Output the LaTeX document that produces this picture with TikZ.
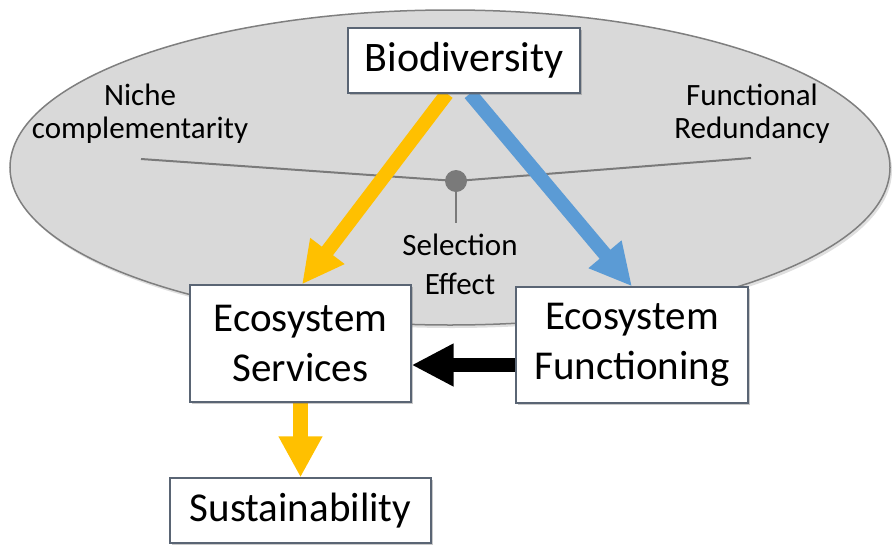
\documentclass[tikz,border=0pt]{standalone}
\usepackage{fontspec}
\setmainfont{Carlito}
\usetikzlibrary{arrows.meta,shadows}
\definecolor{ellfill}{HTML}{D9D9D9}
\definecolor{elldraw}{HTML}{7F7F7F}
\definecolor{boxdraw}{HTML}{5A6574}
\definecolor{gold}{HTML}{FFC000}
\definecolor{sky}{HTML}{5B9BD5}
\definecolor{pinline}{HTML}{7A7A7A}
\pgfdeclarelayer{back}
\pgfdeclarelayer{mid}
\pgfsetlayers{back,mid,main}
\begin{document}
\begin{tikzpicture}[x=1pt,y=-1pt,
  bigbox/.style={draw=boxdraw, line width=1.2pt, fill=white, inner sep=0pt, align=center,
    font=\fontsize{41}{50}\selectfont,
    drop shadow={shadow xshift=2pt, shadow yshift=-2pt, opacity=0.35, fill=black!60}},
  lbl/.style={align=center, inner sep=0pt},
  fat/.style={line width=14pt, -{Triangle[length=42pt,width=40pt]}},
]
\useasboundingbox (0,0) rectangle (894,544);

% boxes
\node[bigbox, minimum width=232pt, minimum height=65pt, font=\fontsize{42}{50}\selectfont] (bio) at (464,60.5) {Biodiversity};
\node[bigbox, minimum width=221pt, minimum height=117pt] (es) at (300.5,343.5) {Ecosystem\\Services};
\node[bigbox, minimum width=232pt, minimum height=116pt] (ef) at (632,345) {Ecosystem\\Functioning};
\node[bigbox, minimum width=261pt, minimum height=65pt] (sus) at (300.5,510.5) {Sustainability};

\begin{pgfonlayer}{back}
  \path[fill=ellfill, draw=elldraw, line width=1.5pt,
    drop shadow={shadow xshift=2pt, shadow yshift=-3pt, opacity=0.25, fill=black!50}]
    (450,167.5) ellipse [x radius=440pt, y radius=157.5pt];
  \node[circle, fill=pinline, minimum size=22pt, inner sep=0pt] (dot) at (456,181) {};
  \coordinate (nl) at (141,159);
  \coordinate (nr) at (751,158);
  \coordinate (nb) at (456,223);
  \draw[pinline, line width=2pt] (nl) -- (dot.center) -- (nr);
  \draw[pinline, line width=2pt] (dot.center) -- (nb);
  \node[lbl, font=\fontsize{31}{33}\selectfont] (niche) at (140,114) {Niche\\complementarity};
  \node[lbl, font=\fontsize{31}{33}\selectfont] (fred) at (752,114) {Functional\\Redundancy};
  \node[lbl, font=\fontsize{31}{39}\selectfont] (sel) at (460,264) {Selection\\Effect};
\end{pgfonlayer}

\begin{pgfonlayer}{mid}
  \draw[fat, gold] ([xshift=-17pt]bio.south) -- ([xshift=1.5pt]es.north);
  \draw[fat, sky] ([xshift=6pt]bio.south) -- (ef.north);
  \draw[fat, black] ([yshift=-20pt]ef.west) -- ([yshift=-20pt]ef.west -| es.east);
  \draw[fat, gold, line width=15pt, -{Triangle[length=41pt,width=41pt]}] (es.south) -- (sus.north);
\end{pgfonlayer}
\end{tikzpicture}
\end{document}
